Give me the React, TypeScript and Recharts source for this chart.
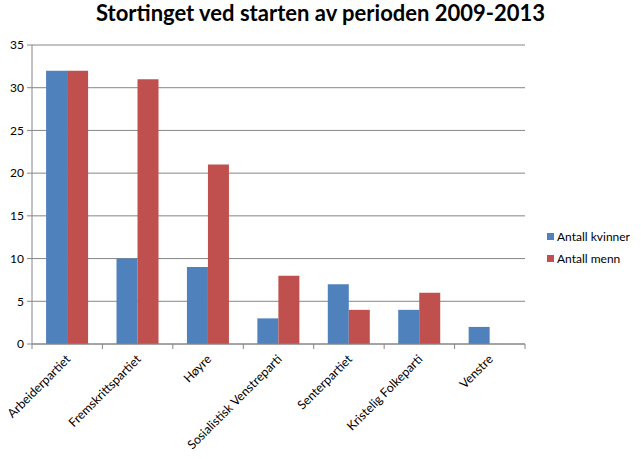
import { BarChart, Bar, XAxis, YAxis, CartesianGrid, Legend } from "recharts";

const parties = [
  "Arbeiderpartiet",
  "Fremskrittspartiet",
  "Høyre",
  "Sosialistisk Venstreparti",
  "Senterpartiet",
  "Kristelig Folkeparti",
  "Venstre",
];
const kvinner = [32, 10, 9, 3, 7, 4, 2];
const menn = [32, 31, 21, 8, 4, 6, 0];
const yTicks = [0, 5, 10, 15, 20, 25, 30, 35];

const BLUE = "#4F81BD";
const RED = "#C0504D";
const AXIS = "#868686";
const FONT = "Lato, 'Open Sans', sans-serif";

const W = 641;
const H = 459;
const M = { top: 45, right: 116, bottom: 0, left: 0 };
const Y_W = 32;
const BAND = (W - M.left - M.right - Y_W) / parties.length;

const data = parties.map((name, i) => ({
  name,
  kvinner: kvinner[i],
  menn: menn[i],
}));

// Excel-style: tick marks sit on the category borders, labels slanted at the centre
const PartyTick = (props: any) => {
  const { x, y, payload, index } = props;
  const left = x - BAND / 2;
  const right = x + BAND / 2;
  return (
    <g>
      <line x1={left} y1={y} x2={left} y2={y + 5} stroke={AXIS} />
      {index === parties.length - 1 && (
        <line x1={right} y1={y} x2={right} y2={y + 5} stroke={AXIS} />
      )}
      <g transform={`translate(${x + 4},${y + 16})`}>
        <text
          x={0}
          y={0}
          textAnchor="end"
          transform="rotate(-45)"
          fontSize={12.3}
          fontFamily={FONT}
          fill="#000"
        >
          {payload.value}
        </text>
      </g>
    </g>
  );
};

const LegendBox = (props: any) => {
  const { payload } = props;
  return (
    <div style={{ fontFamily: FONT, fontSize: 12, color: "#000" }}>
      {payload.map((p: any) => (
        <div
          key={p.value}
          style={{ display: "flex", alignItems: "center", height: 22 }}
        >
          <span
            style={{
              display: "inline-block",
              width: 7,
              height: 7,
              background: p.color,
              marginRight: 3,
            }}
          />
          {p.value}
        </div>
      ))}
    </div>
  );
};

export default function App() {
  return (
    <div
      style={{
        position: "absolute",
        left: 0,
        top: 0,
        width: W,
        height: H,
        background: "#fff",
      }}
    >
      <div
        style={{
          position: "absolute",
          top: -1,
          left: 0,
          width: W,
          textAlign: "center",
          fontFamily: FONT,
          fontWeight: 700,
          fontSize: 22,
          color: "#000",
        }}
      >
        Stortinget ved starten av perioden 2009-2013
      </div>
      <BarChart
        width={W}
        height={H}
        data={data}
        margin={M}
        barCategoryGap="20%"
        barGap={0}
      >
        <CartesianGrid
          horizontal
          vertical={false}
          stroke={AXIS}
          strokeDasharray=""
        />
        <XAxis
          dataKey="name"
          interval={0}
          tickLine={false}
          tickSize={0}
          tickMargin={0}
          tick={<PartyTick />}
          height={115}
          stroke={AXIS}
        />
        <YAxis
          domain={[0, 35]}
          ticks={yTicks}
          width={Y_W}
          tickSize={5}
          tickMargin={3}
          stroke={AXIS}
          tick={{ fill: "#000", fontSize: 12, fontFamily: FONT }}
        />
        <Legend
          layout="vertical"
          align="center"
          verticalAlign="middle"
          content={<LegendBox />}
          wrapperStyle={{ left: 547, top: 225, width: 94, height: 44 }}
        />
        <Bar
          dataKey="kvinner"
          name="Antall kvinner"
          fill={BLUE}
          isAnimationActive={false}
        />
        <Bar
          dataKey="menn"
          name="Antall menn"
          fill={RED}
          isAnimationActive={false}
        />
      </BarChart>
    </div>
  );
}
